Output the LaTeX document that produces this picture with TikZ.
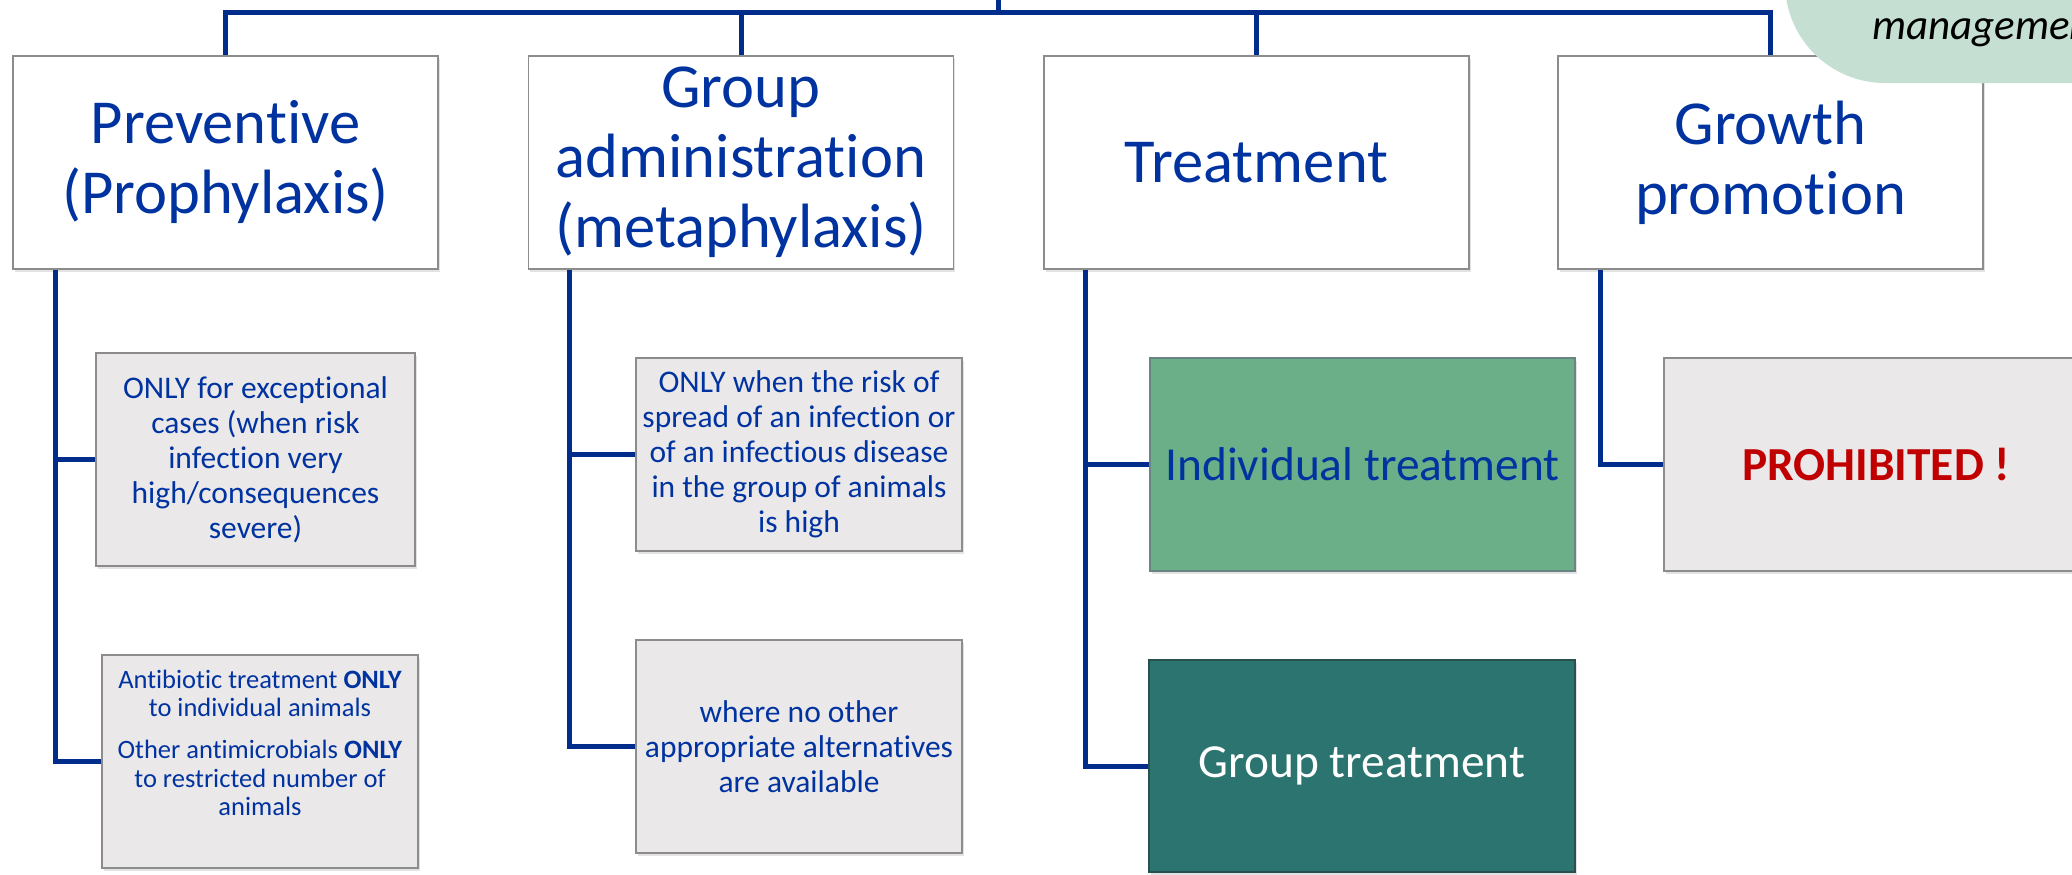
\documentclass[tikz,border=0pt]{standalone}
\usepackage{fontspec}
\setmainfont{Carlito}[Ligatures=NoCommon]
\usetikzlibrary{calc,shadows}
\definecolor{lblue}{RGB}{0,45,140}
\definecolor{tblue}{RGB}{0,51,160}
\definecolor{boxgray}{RGB}{140,140,140}
\definecolor{subgray}{RGB}{235,232,233}
\definecolor{indgreen}{RGB}{106,175,136}
\definecolor{grpteal}{RGB}{44,116,111}
\definecolor{grpborder}{RGB}{40,80,78}
\definecolor{mgmtgreen}{RGB}{197,224,211}
\definecolor{prored}{RGB}{192,0,0}
\tikzset{
  myshadow/.style={drop shadow={opacity=0.22, shadow xshift=0.8pt, shadow yshift=-1.6pt}},
  titlebox/.style={draw=boxgray, line width=0.9pt, fill=white, minimum width=212.5pt,
    minimum height=106.5pt, align=center, inner sep=0pt, text=tblue,
    font=\fontsize{31.3}{35}\selectfont, myshadow},
  subbox/.style={draw=boxgray, line width=0.9pt, fill=subgray, align=center, inner sep=0pt,
    text=tblue, font=\fontsize{15.75}{17.5}\selectfont, myshadow},
  bigtext/.style={font=\fontsize{23.7}{26}\selectfont},
  conn/.style={draw=lblue, line width=2.5pt, line join=miter}
}
\begin{document}
\begin{tikzpicture}[x=0.5pt,y=-0.5pt]
\useasboundingbox (0,0) rectangle (2072,874);
\clip (0,0) rectangle (2072,874);
% title boxes
\node[titlebox] (b1) at (225.5,162.5) {Preventive\\(Prophylaxis)};
\node[titlebox] (b2) at (741,162.5) {Group\\administration\\(metaphylaxis)};
\node[titlebox] (b3) at (1256.5,162.5) {Treatment};
\node[titlebox] (b4) at (1770.5,162.5) {Growth\\promotion};
% top connectors
\coordinate (root) at (998,-10);
\coordinate (bus) at (998,12);
\draw[conn] (root) -- (bus);
\draw[conn] (b1.north) |- (bus) -| (b4.north);
\draw[conn] (b2.north) -- (b2.north |- bus);
\draw[conn] (b3.north) -- (b3.north |- bus);
% sub boxes
\node[subbox, minimum width=159.5pt, minimum height=106.5pt] (b5) at (255.5,459.5)
  {ONLY for exceptional\\cases (when risk\\infection very\\high/consequences\\severe)};
\node[subbox, minimum width=158pt, minimum height=106.5pt] (b6) at (260,761.5) {};
\node[align=center, inner sep=0pt, text=tblue, font=\fontsize{13.25}{14.25}\selectfont] (t6) at (260,743)
  {Antibiotic treatment \textbf{ONLY}\\to individual animals\\[6.75pt]Other antimicrobials \textbf{ONLY}\\to restricted number of\\animals};
\node[subbox, minimum width=163pt, minimum height=96.5pt] (b7) at (799,454.5)
  {ONLY when the risk of\\spread of an infection or\\of an infectious disease\\in the group of animals\\is high};
\node[subbox, minimum width=163pt, minimum height=106.5pt] (b8) at (799,746.5)
  {where no other\\appropriate alternatives\\are available};
\node[subbox, bigtext, fill=indgreen, draw=grpborder!70, minimum width=212.5pt, minimum height=106.5pt] (b9) at (1362.5,464.5)
  {Individual treatment};
\node[subbox, bigtext, fill=grpteal, draw=grpborder, text=white, minimum width=213pt, minimum height=106pt] (b10) at (1362,766)
  {Group treatment};
\node[subbox, bigtext, text=prored, minimum width=212pt, minimum height=106.5pt] (b11) at (1876,464.5)
  {\textbf{PROHIBITED !}};
% branch connectors
\coordinate (v1) at ($(b1.south west)+(43,0)$);
\coordinate (v2) at ($(b2.south west)+(42,0)$);
\coordinate (v3) at ($(b3.south west)+(42,0)$);
\coordinate (v4) at ($(b4.south west)+(43,0)$);
\draw[conn] (v1) |- (b5.west);
\draw[conn] (v1) |- (b6.west);
\draw[conn] (v2) |- (b7.west);
\draw[conn] (v2) |- (b8.west);
\draw[conn] (v3) |- (b9.west);
\draw[conn] (v3) |- (b10.west);
\draw[conn] (v4) |- (b11.west);
% management shape
\fill[mgmtgreen, rounded corners=50pt] (1785,-300) rectangle (2300,83);
\node[anchor=base west, inner sep=0pt, font=\itshape\fontsize{21.5}{24}\selectfont] (mg) at (1872,39) {management};
\end{tikzpicture}
\end{document}
